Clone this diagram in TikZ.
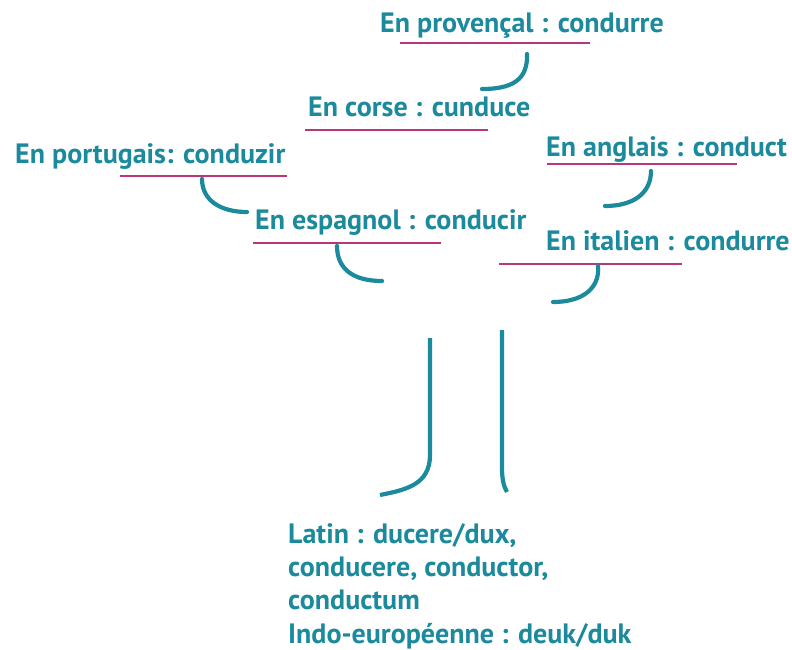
\documentclass[tikz,border=0pt]{standalone}
\usepackage{fontspec}
\setmainfont{PT Sans}
\definecolor{teal}{HTML}{1A8A9C}
\definecolor{magenta}{HTML}{B8377A}
\tikzset{
  lab/.style={anchor=base west, inner sep=0pt, text=teal, font=\fontsize{28}{33.3}\selectfont\bfseries},
  uline/.style={draw=magenta, line width=2.5pt},
  branch/.style={draw=teal, line width=4.2pt, line cap=round},
}
\begin{document}
\begin{tikzpicture}[x=1pt,y=-1pt]
\useasboundingbox (0,0) rectangle (792,650);
% labels
\node[lab] (prov) at (380,33) {En provençal : condurre};
\node[lab] (corse) at (308,117) {En corse : cunduce};
\node[lab] (port) at (15,163) {En portugais: conduzir};
\node[lab] (esp) at (255,229) {En espagnol : conducir};
\node[lab] (angl) at (546,157) {En anglais : conduct};
\node[lab] (ital) at (546,250) {En italien : condurre};
\node[lab, align=left] (latin) at (288,643) {Latin : ducere/dux,\\conducere, conductor,\\conductum\\Indo-européenne : deuk/duk};
% underlines
\coordinate (p1) at (400,43); \coordinate (p2) at (590,43);
\coordinate (c1) at (305,130); \coordinate (c2) at (488,130);
\coordinate (t1) at (120,176); \coordinate (t2) at (287,176);
\coordinate (e1) at (253,243); \coordinate (e2) at (441,243);
\coordinate (a1) at (547,164); \coordinate (a2) at (737,164);
\coordinate (i1) at (499,264); \coordinate (i2) at (682,264);
\draw[uline] (p1) -- (p2);
\draw[uline] (c1) -- (c2);
\draw[uline] (t1) -- (t2);
\draw[uline] (e1) -- (e2);
\draw[uline] (a1) -- (a2);
\draw[uline] (i1) -- (i2);
% hooks
\draw[branch] (527,54) .. controls (528,80) and (512,89) .. (482,89);
\draw[branch] (202,179) .. controls (202,200) and (220,212) .. (247,212);
\draw[branch] (337,246) .. controls (337,268) and (352,281) .. (382,281);
\draw[branch] (651,171) .. controls (651,192) and (635,206) .. (605,206);
\draw[branch] (598,266) .. controls (600,288) and (583,302) .. (553,302);
% trunk
\draw[branch, line cap=butt] (430,338) -- (430,455) .. controls (430,485) and (405,490) .. (380,495);
\draw[branch, line cap=butt] (502,330) -- (502,468) .. controls (502,480) and (504,487) .. (507,492);
\end{tikzpicture}
\end{document}
